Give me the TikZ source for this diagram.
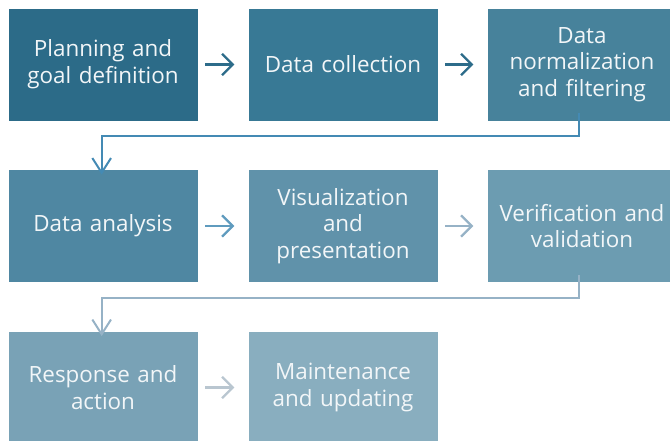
\documentclass[tikz,border=0pt]{standalone}
\usepackage{fontspec}
\setmainfont{Open Sans}
\usepackage{tikz}
\usetikzlibrary{positioning,arrows.meta}
\definecolor{stepa}{RGB}{44,107,136}
\definecolor{stepb}{RGB}{56,121,149}
\definecolor{stepc}{RGB}{71,130,155}
\definecolor{stepd}{RGB}{79,135,162}
\definecolor{stepe}{RGB}{96,146,170}
\definecolor{stepf}{RGB}{108,156,177}
\definecolor{stepg}{RGB}{121,162,182}
\definecolor{steph}{RGB}{137,174,191}
\definecolor{linka}{RGB}{45,108,138}
\definecolor{linkb}{RGB}{68,138,180}
\definecolor{linkc}{RGB}{95,155,190}
\definecolor{linkd}{RGB}{150,178,198}
\definecolor{linke}{RGB}{185,198,208}
\tikzset{
    block/.style = {
        draw=white,
        shape=rectangle,
        minimum height=84.75pt,
        minimum width=142.5pt,
        text width=136pt,
        align=center,
        line width=0.4pt,
        text=white!94!stepa,
        font=\fontsize{16.8}{20}\selectfont
    },
    flow/.style = {
        line width=1.7pt,
        -{Straight Barb[length=8pt,width=16pt,line width=1.7pt]}
    },
    turn/.style = {
        line width=1.4pt,
        -{Straight Barb[length=11pt,width=14pt,line width=1.5pt]}
    },
}
\begin{document}
\begin{tikzpicture}[x=0.75pt,y=-0.75pt]
                \useasboundingbox (0,0) rectangle (670,441);
                \node[block, fill=stepa] (plan) at (103,64.5) {Planning and\\goal definition};
                \node[block, fill=stepb] (coll) at (343,64.5) {Data collection};
                \node[block, fill=stepc] (norm) at (582,64.5) {Data\\normalization\\and filtering};
                \node[block, fill=stepd] (anal) at (103,226) {Data analysis};
                \node[block, fill=stepe] (visu) at (343,226) {Visualization\\and\\presentation};
                \node[block, fill=stepf] (veri) at (582,226) {Verification and\\validation};
                \node[block, fill=stepg] (resp) at (103,387.5) {Response and\\action};
                \node[block, fill=steph] (main) at (343,387.5) {Maintenance\\and updating};

                \draw[flow, color=linka] ([xshift=5]plan.east) -- ([xshift=-10]coll.west);
                \draw[flow, color=linka] ([xshift=5]coll.east) -- ([xshift=-10]norm.west);
                \draw[flow, color=linkc] ([xshift=5]anal.east) -- ([xshift=-10]visu.west);
                \draw[flow, color=linkd] ([xshift=5]visu.east) -- ([xshift=-10]veri.west);
                \draw[flow, color=linke] ([xshift=5]resp.east) -- ([xshift=-10]main.west);

                \draw[turn, color=linkb] ([xshift=-2,yshift=6]norm.south) |- ++(-240,23) -| ([xshift=-1,yshift=-4]anal.north);
                \draw[turn, color=linkd] ([xshift=-2,yshift=6]veri.south) |- ++(-240,23) -| ([xshift=-1,yshift=-4]resp.north);
\end{tikzpicture}
\end{document}
